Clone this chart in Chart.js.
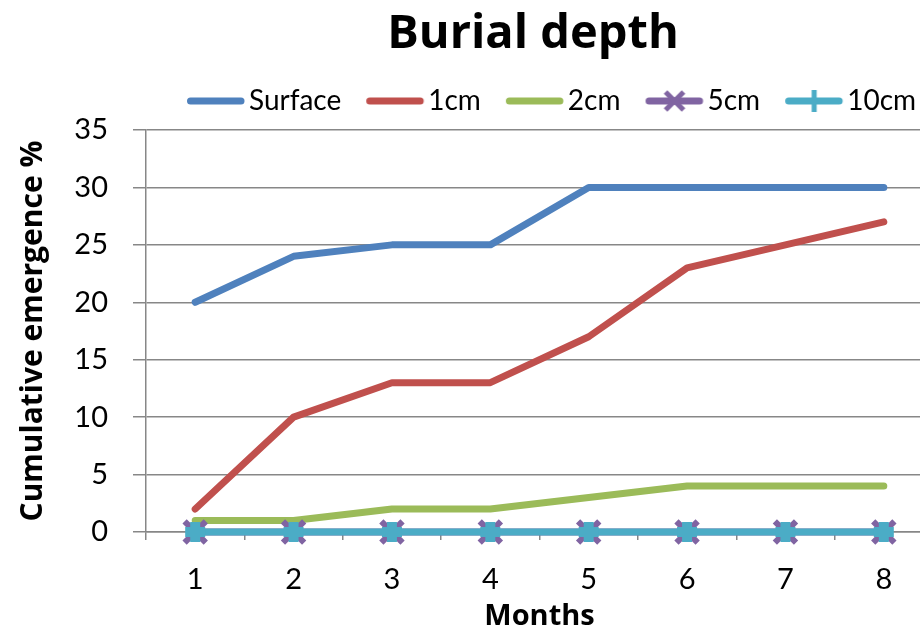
<!DOCTYPE html>
<html>
<head>
<meta charset="utf-8">
<script src="https://cdn.jsdelivr.net/npm/chart.js@4.4.1/dist/chart.umd.min.js"></script>
<style>
  html, body { margin: 0; padding: 0; overflow: hidden; background: #fff; }
  #wrap { width: 935px; height: 631px; }
  canvas { display: block; max-width: none !important; }
</style>
</head>
<body>
<div id="wrap"><canvas id="chart" width="935" height="631" style="width:935px;height:631px"></canvas></div>
<script>
const months = ["1", "2", "3", "4", "5", "6", "7", "8"];
const surface = [20, 24, 25, 25, 30, 30, 30, 30];
const depth1cm = [2, 10, 13, 13, 17, 23, 25, 27];
const depth2cm = [1, 1, 2, 2, 3, 4, 4, 4];
const depth5cm = [0, 0, 0, 0, 0, 0, 0, 0];
const depth10cm = [0, 0, 0, 0, 0, 0, 0, 0];
const yMax = 35;
const yStep = 5;

const GRID = "#878787";
const FONT = "Lato";
const BOLD = "'Open Sans'";

// legend sample: a short line with the series marker on it
function legendSample(color, marker) {
  const c = document.createElement("canvas");
  c.width = 70;
  c.height = 28;
  const g = c.getContext("2d");
  g.strokeStyle = color;
  g.lineWidth = 7;
  g.lineCap = "round";
  g.beginPath();
  g.moveTo(14.5, 14);
  g.lineTo(65, 14);
  g.stroke();
  const cx = 40;
  g.lineCap = "butt";
  if (marker === "x") {
    g.lineWidth = 5;
    g.beginPath();
    g.moveTo(cx - 9, 5); g.lineTo(cx + 9, 23);
    g.moveTo(cx + 9, 5); g.lineTo(cx - 9, 23);
    g.stroke();
  } else if (marker === "plus") {
    g.lineWidth = 5;
    g.beginPath();
    g.moveTo(cx, 3); g.lineTo(cx, 25);
    g.moveTo(cx - 10, 14); g.lineTo(cx + 10, 14);
    g.stroke();
  }
  return c;
}

const colors = ["#4F81BD", "#C0504D", "#9BBB59", "#8064A2", "#4BACC6"];
const samples = [
  legendSample(colors[0]),
  legendSample(colors[1]),
  legendSample(colors[2]),
  legendSample(colors[3], "x"),
  legendSample(colors[4], "plus"),
];

// move title and legend to where the reference has them
const placeBlocks = {
  id: "placeBlocks",
  afterLayout(chart) {
    const t = chart.titleBlock;
    t.left = 133; t.right = 933; t.width = 800;
    const l = chart.legend;
    l.left = 100; l.right = 1003; l.width = 903;
    l.top -= 5; l.bottom -= 5;
  },
};

new Chart(document.getElementById("chart"), {
  type: "line",
  data: {
    labels: months,
    datasets: [
      { label: "Surface", data: surface, borderColor: colors[0], backgroundColor: colors[0], pointRadius: 0, order: 5 },
      { label: "1cm", data: depth1cm, borderColor: colors[1], backgroundColor: colors[1], pointRadius: 0, order: 4 },
      { label: "2cm", data: depth2cm, borderColor: colors[2], backgroundColor: colors[2], pointRadius: 0, order: 3 },
      {
        label: "5cm", data: depth5cm, borderColor: colors[3], backgroundColor: colors[3],
        pointStyle: "crossRot", pointRadius: 15, pointBorderWidth: 6, order: 2,
      },
      {
        label: "10cm", data: depth10cm, borderColor: colors[4], backgroundColor: colors[4],
        pointStyle: "cross", pointRadius: 10, pointBorderWidth: 10, order: 1,
      },
    ],
  },
  options: {
    responsive: false,
    animation: false,
    devicePixelRatio: 1,
    layout: { autoPadding: false, padding: { top: 0, right: 2, bottom: 0, left: 0 } },
    elements: {
      line: { borderWidth: 7, tension: 0, borderCapStyle: "round", borderJoinStyle: "round" },
    },
    datasets: { line: { clip: false } },
    plugins: {
      title: {
        display: true,
        text: "Burial depth",
        color: "#000",
        font: { family: BOLD, size: 47, weight: "bold", lineHeight: 1 },
        padding: { top: 11, bottom: 9 },
      },
      legend: {
        display: true,
        position: "top",
        maxWidth: 1000,
        labels: {
          usePointStyle: true,
          pointStyleWidth: 48,
          padding: 25,
          color: "#000",
          font: { family: FONT, size: 28 },
          generateLabels: (chart) =>
            chart.data.datasets.map((ds, i) => ({
              text: ds.label,
              pointStyle: samples[i],
              fillStyle: ds.borderColor,
              strokeStyle: ds.borderColor,
              lineWidth: 0,
              fontColor: "#000",
              hidden: false,
              datasetIndex: i,
            })),
        },
      },
      tooltip: { enabled: false },
    },
    scales: {
      x: {
        offset: true,
        grid: { offset: true, drawOnChartArea: false, tickLength: 8, color: GRID, lineWidth: 1.5 },
        border: { color: GRID, width: 1.5 },
        ticks: { padding: 22, color: "#000", maxRotation: 0, font: { family: FONT, size: 29 } },
        title: {
          display: true,
          text: "Months",
          color: "#000",
          font: { family: BOLD, size: 29, weight: "bold", lineHeight: 1 },
          padding: { top: 0, bottom: 0 },
        },
        afterFit: (s) => { s.height = 99; },
      },
      y: {
        min: 0,
        max: yMax,
        ticks: { stepSize: yStep, padding: 25, color: "#000", font: { family: FONT, size: 29 } },
        grid: { color: GRID, lineWidth: 1.5, tickLength: 13 },
        border: { color: GRID, width: 1.5 },
        title: {
          display: true,
          text: "Cumulative emergence %",
          color: "#000",
          font: { family: BOLD, size: 30, weight: "bold", lineHeight: 1 },
          padding: { top: 18, bottom: 0 },
        },
        afterFit: (s) => { s.width = 146; },
      },
    },
  },
  plugins: [placeBlocks],
});
</script>
</body>
</html>
